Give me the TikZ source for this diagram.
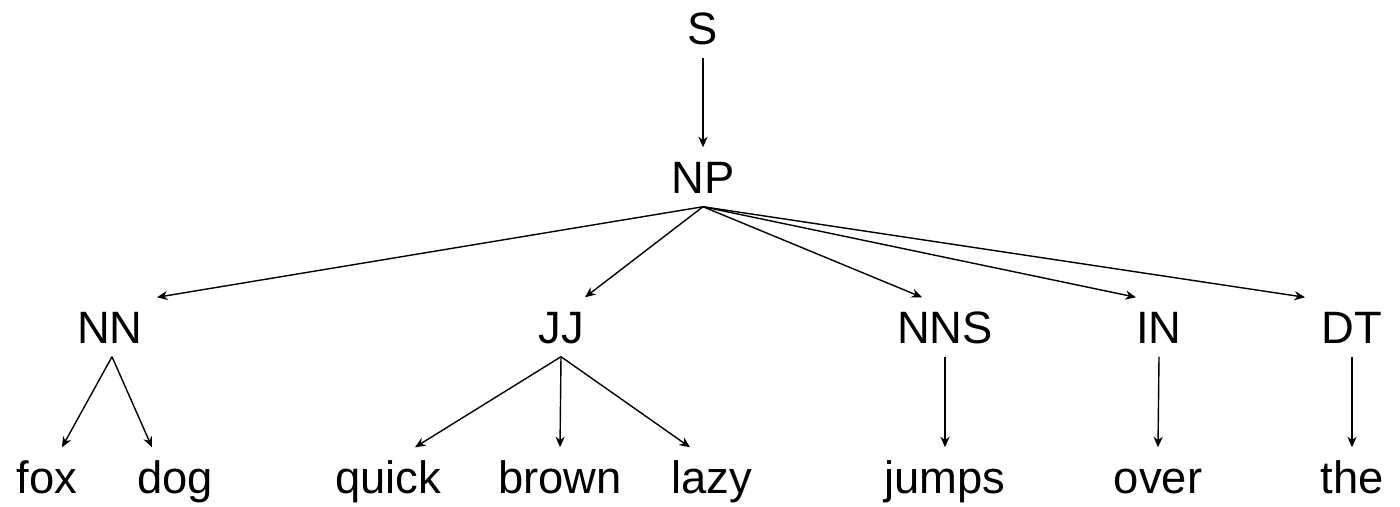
\documentclass[tikz,border=0pt]{standalone}
\usepackage{fontspec}
\setmainfont{Liberation Sans}
\usetikzlibrary{arrows.meta,calc}
\begin{document}
\begin{tikzpicture}[x=0.01cm,y=-0.01cm,
  lbl/.style={font=\fontsize{12.9}{15}\selectfont, text height=0.32cm, text depth=0cm, inner xsep=0pt, inner ysep=0.13cm},
  edge/.style={line width=0.4pt, -{Stealth[length=3pt,width=2.6pt]}}]
\useasboundingbox (0,0) rectangle (1400,506);
\node[lbl] (S) at (703,28) {S};
\node[lbl] (NP) at (703,177) {NP};
\node[lbl] (NN) at (110,327) {NN};
\node[lbl] (JJ) at (561,327) {JJ};
\node[lbl] (NNS) at (945,327) {NNS};
\node[lbl] (IN) at (1159,327) {IN};
\node[lbl] (DT) at (1352,327) {DT};
\node[lbl] (fox) at (47,477) {fox};
\node[lbl] (dog) at (175,477) {dog};
\node[lbl] (quick) at (388,477) {quick};
\node[lbl] (brown) at (560,477) {brown};
\node[lbl] (lazy) at (712,477) {lazy};
\node[lbl] (jumps) at (945,477) {jumps};
\node[lbl] (over) at (1158,477) {over};
\node[lbl] (the) at (1352,477) {the};
\draw[edge] (S.south) -- (NP.north);
\draw[edge] (NP.south) -- ($(NN.north)+(47,0)$);
\draw[edge] (NP.south) -- ($(JJ.north)+(24,0)$);
\draw[edge] (NP.south) -- ($(NNS.north)+(-23,0)$);
\draw[edge] (NP.south) -- ($(IN.north)+(-23,0)$);
\draw[edge] (NP.south) -- ($(DT.north)+(-47,0)$);
\draw[edge] ($(NN.south)+(2,0)$) -- ($(fox.north)+(15,0)$);
\draw[edge] ($(NN.south)+(2,0)$) -- ($(dog.north)+(-23,0)$);
\draw[edge] (JJ.south) -- ($(quick.north)+(27,0)$);
\draw[edge] (JJ.south) -- (brown.north);
\draw[edge] (JJ.south) -- ($(lazy.north)+(-22,0)$);
\draw[edge] (NNS.south) -- (jumps.north);
\draw[edge] (IN.south) -- (over.north);
\draw[edge] (DT.south) -- (the.north);
\end{tikzpicture}
\end{document}
